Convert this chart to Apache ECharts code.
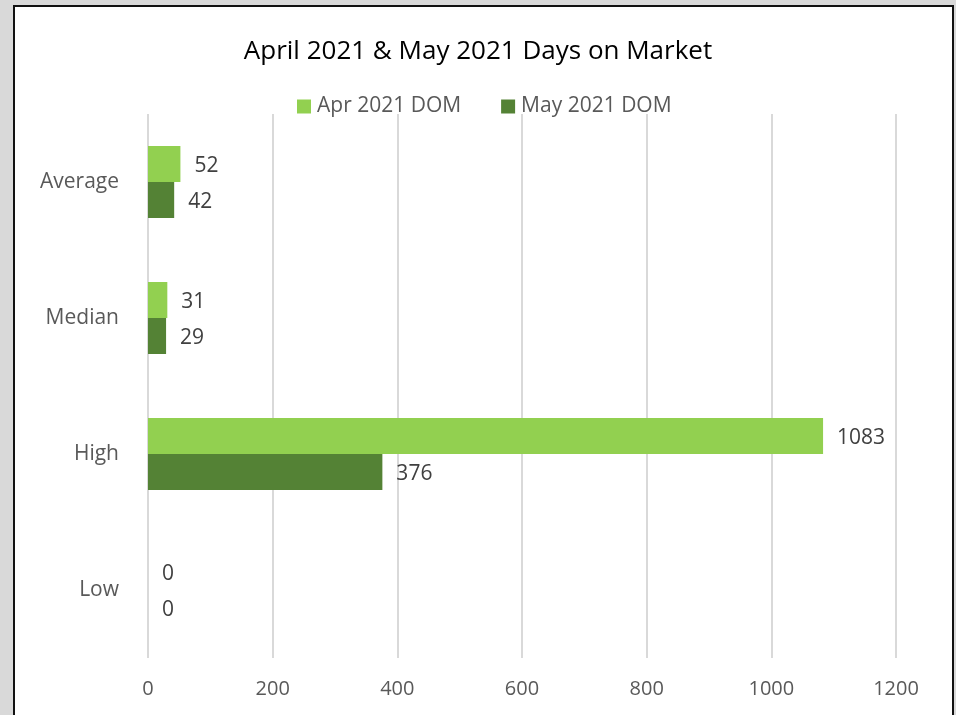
<!DOCTYPE html>
<html>
<head>
<meta charset="utf-8">
<script src="https://cdn.jsdelivr.net/npm/echarts@6/dist/echarts.min.js"></script>
<style>
  html, body { margin: 0; padding: 0; background: #d9d9d9; }
  #frame {
    position: absolute; left: 13px; top: 5px; width: 937px; height: 720px;
    background: #ffffff; border: 2px solid #111;
  }
  #main { position: absolute; left: 0; top: 0; width: 956px; height: 715px; }
</style>
</head>
<body>
<div id="frame"></div>
<div id="main"></div>
<script>
// categories, top to bottom
var categories = ['Average', 'Median', 'High', 'Low'];
var aprDom = [52, 31, 1083, 0];
var mayDom = [42, 29, 376, 0];
var seriesNames = ['Apr 2021 DOM', 'May 2021 DOM'];

var FONT = '"Open Sans", sans-serif';

var myChart = echarts.init(document.getElementById('main'));

var labelStyle = {
    show: true,
    position: 'right',
    distance: 14,
    offset: [0, 2],
    fontFamily: FONT,
    fontSize: 21,
    color: '#404040'
};

var option = {
    backgroundColor: 'transparent',
    title: {
        text: 'April 2021 & May 2021 Days on Market',
        left: 'center',
        top: 34,
        textStyle: { fontFamily: FONT, fontSize: 26, fontWeight: 'normal', color: '#000' }
    },
    legend: {
        data: seriesNames,
        top: 91,
        left: 292,
        itemWidth: 14,
        itemHeight: 14,
        itemGap: 40,
        icon: 'rect',
        textStyle: { fontFamily: FONT, fontSize: 21, color: '#595959', padding: [0, 0, 0, 1] }
    },
    grid: { left: 148, right: 60, top: 114, bottom: 57 },
    xAxis: {
        type: 'value',
        min: 0,
        max: 1200,
        interval: 200,
        axisLine: { show: false },
        axisTick: { show: false },
        splitLine: { lineStyle: { color: '#d9d9d9', width: 2 } },
        axisLabel: {
            fontFamily: FONT, fontSize: 20, color: '#595959', margin: 21,
            formatter: function (v) { return String(v); }
        }
    },
    yAxis: {
        type: 'category',
        data: categories,
        inverse: true,
        axisLine: { show: false },
        axisTick: { show: false },
        axisLabel: { fontFamily: FONT, fontSize: 21, color: '#595959', margin: 29 }
    },
    series: [
        {
            name: seriesNames[0],
            type: 'bar',
            data: aprDom,
            barWidth: 36,
            barGap: '0%',
            itemStyle: { color: '#92d050' },
            label: labelStyle
        },
        {
            name: seriesNames[1],
            type: 'bar',
            data: mayDom,
            barWidth: 36,
            barGap: '0%',
            itemStyle: { color: '#548235' },
            label: labelStyle
        }
    ]
};

myChart.setOption(option);
</script>
</body>
</html>
